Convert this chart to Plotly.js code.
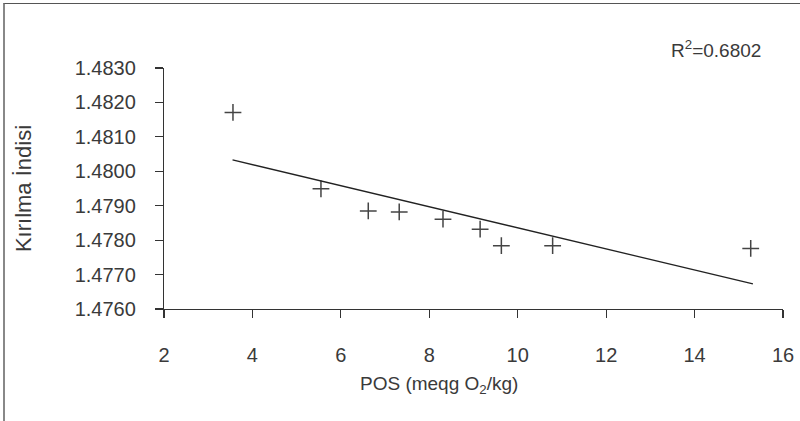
<!DOCTYPE html>
<html>
<head>
<meta charset="utf-8">
<script src="https://cdn.plot.ly/plotly-3.0.1.min.js"></script>
<style>
  html, body { margin: 0; padding: 0; background: #fff; }
  #wrap { position: relative; width: 800px; height: 421px; overflow: hidden; }
  #frame { position: absolute; left: 3px; top: 3px; width: 810px; height: 430px;
           border-top: 1.5px solid #555; border-left: 2px solid #888; pointer-events: none; z-index: 5; }
  #chart { position: absolute; left: 0; top: 0; width: 800px; height: 421px; }
</style>
</head>
<body>
<div id="wrap">
  <div id="chart"></div>
  <div id="frame"></div>
</div>
<script>
// Data
const posValues = [3.56, 5.55, 6.62, 7.32, 8.31, 9.15, 9.63, 10.79, 15.27];
const refractiveIndex = [1.48171, 1.47949, 1.47885, 1.47882, 1.47861, 1.47832, 1.47784, 1.47784, 1.47776];
const trendX = [3.55, 15.32];
const trendY = [1.48033, 1.47673];
const xTicks = [2, 4, 6, 8, 10, 12, 14, 16];
const yTicks = [1.4760, 1.4770, 1.4780, 1.4790, 1.4800, 1.4810, 1.4820, 1.4830];
const rSquaredLabel = 'R<sup>2</sup>=0.6802';
const xTitle = 'POS (meqg O<sub>2</sub>/kg)';
const yTitle = 'Kırılma İndisi';

const FONT = '"Liberation Sans", Arial, sans-serif';
const TXT = '#3a3a3a';

const traces = [
  {
    x: posValues, y: refractiveIndex, type: 'scatter', mode: 'markers',
    marker: { symbol: 'cross-thin', size: 12, line: { width: 1.5, color: '#444' }, color: '#444' },
    hoverinfo: 'x+y', showlegend: false
  },
  {
    x: trendX, y: trendY, type: 'scatter', mode: 'lines',
    line: { color: '#222', width: 1.3 }, showlegend: false, hoverinfo: 'skip'
  }
];

const layout = {
  width: 800, height: 421,
  margin: { l: 164, r: 17, t: 68, b: 112, pad: 0 },
  paper_bgcolor: '#fff', plot_bgcolor: '#fff',
  font: { family: FONT, color: TXT, size: 18 },
  showlegend: false,
  xaxis: {
    range: [2, 16], tickvals: xTicks, ticktext: xTicks.map(String),
    showgrid: false, zeroline: false,
    showline: true, linecolor: '#333', linewidth: 1.2,
    ticks: 'outside', ticklen: 8, tickwidth: 1.2, tickcolor: '#333',
    ticklabelstandoff: 20,
    tickfont: { family: FONT, size: 20, color: TXT }
  },
  yaxis: {
    range: [1.4760, 1.4830], tickvals: yTicks, ticktext: yTicks.map(v => v.toFixed(4)),
    showgrid: false, zeroline: false,
    showline: true, linecolor: '#333', linewidth: 1.2,
    ticks: 'outside', ticklen: 8, tickwidth: 1.2, tickcolor: '#333',
    ticklabelstandoff: 15,
    tickfont: { family: FONT, size: 20, color: TXT },
    title: { text: yTitle, font: { family: FONT, size: 22, color: TXT }, standoff: 37 }
  },
  annotations: [
    {
      text: rSquaredLabel, xref: 'paper', yref: 'paper', x: 0.892, y: 1.079,
      xanchor: 'center', yanchor: 'middle', showarrow: false,
      font: { family: FONT, size: 19, color: TXT }
    },
    {
      text: xTitle, xref: 'paper', yref: 'paper', x: 0.4435, y: -0.315,
      xanchor: 'center', yanchor: 'middle', showarrow: false,
      font: { family: FONT, size: 19, color: TXT }
    }
  ]
};

Plotly.newPlot('chart', traces, layout, { staticPlot: true, displayModeBar: false });
</script>
</body>
</html>
